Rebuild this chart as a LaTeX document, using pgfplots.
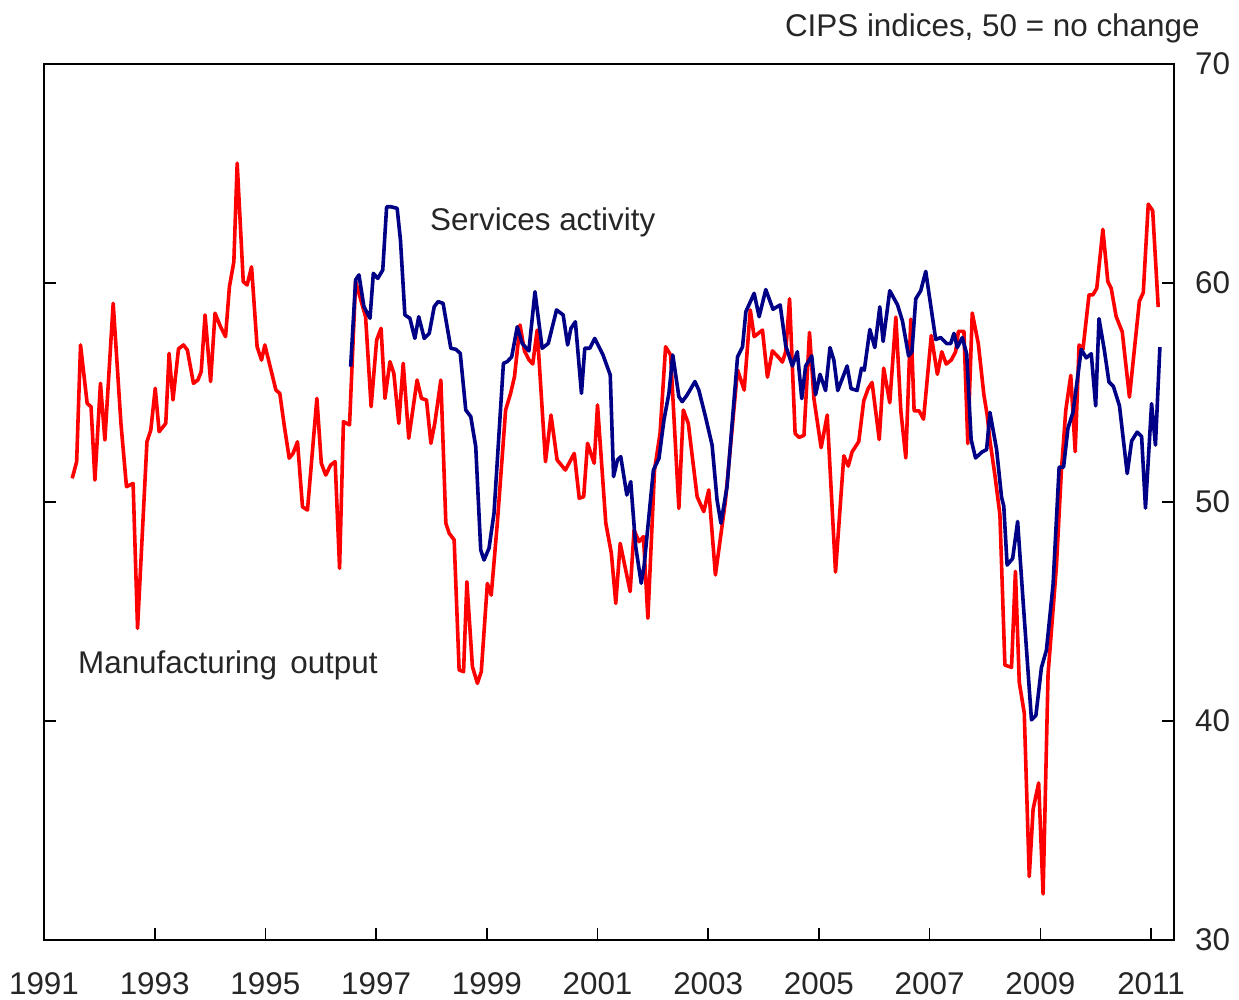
\documentclass[border=0pt]{standalone}
\usepackage{fontspec}
\setmainfont{Liberation Sans}
\usepackage{pgfplots}
\pgfplotsset{compat=1.18}
\definecolor{mfg}{RGB}{255,0,0}
\definecolor{svc}{RGB}{0,0,135}
\newcommand\f{\fontsize{15.7pt}{18pt}\selectfont}
\begin{document}
\begin{tikzpicture}
\path[use as bounding box] (0,0) rectangle (619.5pt,500pt);
\begin{axis}[
  at={(22pt,30pt)}, anchor=south west,
  scale only axis, width=565pt, height=438pt,
  xmin=1991, xmax=2011.415, ymin=30, ymax=70,
  xtick={1991,1993,1995,1997,1999,2001,2003,2005,2007,2009,2011},
  xticklabels={1991,1993,1995,1997,1999,2001,2003,2005,2007,2009,2011},
  ytick={30,40,50,60,70},
  yticklabels={30,40,50,60,70},
  xtick pos=bottom, ytick pos=both,
  yticklabel pos=right,
  tick align=inside,
  major tick length=6pt,
  tick style={black, line width=0.8pt},
  axis line style={black, line width=1.1pt},
  ticklabel style={font=\f, text=black!85},
  xticklabel shift=13pt,
  yticklabel shift=7pt,
  clip=false,
]
\addplot[mfg, line width=1.8pt, line join=round] coordinates {
(1991.51,51.08)(1991.59,51.84)(1991.66,57.17)(1991.78,54.5)(1991.85,54.35)(1991.92,51.0)
(1992.02,55.42)(1992.10,52.83)(1992.25,59.07)(1992.39,53.59)(1992.49,50.7)(1992.61,50.85)
(1992.69,44.23)(1992.86,52.75)(1992.93,53.29)(1993.01,55.19)(1993.08,53.21)(1993.20,53.59)
(1993.26,56.79)(1993.33,54.66)(1993.43,56.99)(1993.52,57.17)(1993.59,56.94)(1993.70,55.42)
(1993.78,55.57)(1993.84,55.95)(1993.91,58.54)(1994.01,55.50)(1994.09,58.62)(1994.19,58.0)
(1994.28,57.55)(1994.35,59.83)(1994.43,60.97)(1994.49,65.47)(1994.60,60.06)(1994.67,59.91)
(1994.75,60.74)(1994.85,57.09)(1994.93,56.48)(1994.99,57.17)(1995.19,55.11)(1995.26,54.96)
(1995.34,53.5)(1995.43,52.0)(1995.50,52.22)(1995.58,52.75)(1995.67,49.78)(1995.76,49.63)
(1995.93,54.73)(1996.01,51.77)(1996.09,51.23)(1996.18,51.69)(1996.26,51.84)(1996.34,46.97)
(1996.41,53.67)(1996.52,53.52)(1996.63,60.06)(1996.81,58.46)(1996.91,54.35)(1997.01,57.40)
(1997.09,57.93)(1997.16,54.73)(1997.25,56.41)(1997.32,55.88)(1997.41,53.59)(1997.49,56.33)
(1997.59,52.91)(1997.74,55.57)(1997.82,54.73)(1997.91,54.66)(1997.99,52.68)(1998.06,53.59)
(1998.17,55.57)(1998.26,49.03)(1998.32,48.57)(1998.41,48.27)(1998.50,42.33)(1998.58,42.25)
(1998.64,46.36)(1998.74,42.48)(1998.83,41.72)(1998.90,42.25)(1999.01,46.28)(1999.08,45.75)
(1999.19,49.03)(1999.34,54.2)(1999.43,54.96)(1999.50,55.72)(1999.60,58.08)(1999.68,56.9)
(1999.76,56.5)(1999.83,56.3)(1999.91,57.85)(2000.06,51.84)(2000.16,53.97)(2000.27,51.92)
(2000.42,51.46)(2000.58,52.22)(2000.67,50.17)(2000.75,50.24)(2000.82,52.68)(2000.94,51.77)
(2001.00,54.43)(2001.15,49.03)(2001.25,47.66)(2001.33,45.37)(2001.41,48.11)(2001.59,45.91)
(2001.66,48.72)(2001.75,48.19)(2001.83,48.42)(2001.91,44.69)(2002.03,51.46)(2002.13,53.14)
(2002.23,57.09)(2002.32,56.71)(2002.47,49.71)(2002.55,54.2)(2002.64,53.59)(2002.80,50.24)
(2002.92,49.56)(2003.01,50.55)(2003.13,46.67)(2003.31,50.02)(2003.53,56.03)(2003.65,55.11)
(2003.76,58.77)(2003.83,57.55)(2003.98,57.85)(2004.07,55.70)(2004.16,56.9)(2004.28,56.58)
(2004.34,56.39)(2004.40,56.86)(2004.47,59.28)(2004.57,53.13)(2004.64,52.95)(2004.73,53.04)
(2004.83,57.74)(2004.91,54.72)(2005.04,52.48)(2005.15,53.97)(2005.30,46.8)(2005.45,52.11)
(2005.53,51.64)(2005.60,52.29)(2005.72,52.76)(2005.81,54.62)(2005.89,55.18)(2005.96,55.46)
(2006.09,52.85)(2006.17,56.11)(2006.28,54.53)(2006.39,58.44)(2006.48,54.16)(2006.57,52.01)
(2006.66,58.35)(2006.72,54.16)(2006.81,54.16)(2006.89,53.78)(2007.03,57.6)(2007.14,55.83)
(2007.22,56.86)(2007.30,56.30)(2007.39,56.48)(2007.47,56.86)(2007.52,57.79)(2007.62,57.79)
(2007.69,52.67)(2007.77,58.63)(2007.88,57.23)(2007.98,54.90)(2008.04,53.97)(2008.09,52.8)
(2008.18,51.21)(2008.27,49.42)(2008.36,42.55)(2008.48,42.45)(2008.55,46.83)(2008.62,41.76)
(2008.71,40.36)(2008.80,32.9)(2008.87,35.98)(2008.97,37.17)(2009.05,32.1)(2009.14,42.15)
(2009.29,47.03)(2009.38,51.40)(2009.46,54.19)(2009.55,55.78)(2009.63,52.30)(2009.70,57.17)
(2009.77,56.97)(2009.88,59.46)(2009.95,59.46)(2010.02,59.76)(2010.13,62.45)(2010.22,60.06)
(2010.28,59.76)(2010.37,58.47)(2010.48,57.77)(2010.61,54.79)(2010.79,59.17)(2010.86,59.56)
(2010.95,63.6)(2011.03,63.3)(2011.13,58.9)
};
\addplot[svc, line width=1.8pt, line join=round] coordinates {
(1996.54,56.18)(1996.63,60.14)(1996.69,60.37)(1996.78,58.92)(1996.89,58.39)(1996.95,60.44)
(1997.03,60.21)(1997.12,60.59)(1997.19,63.48)(1997.27,63.48)(1997.38,63.41)(1997.44,61.96)
(1997.52,58.54)(1997.61,58.39)(1997.70,57.47)(1997.77,58.46)(1997.87,57.47)(1997.96,57.70)
(1998.05,58.92)(1998.12,59.15)(1998.21,59.07)(1998.35,57.02)(1998.44,56.97)(1998.52,56.79)
(1998.62,54.2)(1998.71,53.9)(1998.80,52.53)(1998.89,47.81)(1998.95,47.35)(1999.04,47.89)
(1999.13,49.48)(1999.30,56.33)(1999.37,56.41)(1999.45,56.63)(1999.55,58.0)(1999.64,57.24)
(1999.76,56.9)(1999.87,59.6)(2000.00,57.02)(2000.11,57.24)(2000.26,58.77)(2000.38,58.54)
(2000.46,57.17)(2000.52,57.93)(2000.60,58.23)(2000.71,54.96)(2000.77,57.02)(2000.86,57.02)
(2000.95,57.47)(2001.10,56.71)(2001.23,55.8)(2001.29,51.16)(2001.36,51.92)(2001.42,52.07)
(2001.53,50.32)(2001.60,50.93)(2001.69,47.96)(2001.79,46.29)(2001.84,47.05)(2002.01,51.46)
(2002.11,51.99)(2002.20,53.74)(2002.29,54.96)(2002.36,56.71)(2002.47,54.81)(2002.53,54.58)
(2002.62,54.89)(2002.76,55.5)(2002.83,55.11)(2002.95,53.9)(2003.07,52.6)(2003.16,50.09)
(2003.23,49.03)(2003.34,50.7)(2003.53,56.63)(2003.62,57.09)(2003.68,58.69)(2003.83,59.53)
(2003.92,58.46)(2004.04,59.7)(2004.17,58.8)(2004.30,59.0)(2004.40,57.14)(2004.52,56.21)
(2004.61,56.86)(2004.69,54.72)(2004.76,56.21)(2004.87,56.67)(2004.94,54.90)(2005.02,55.83)
(2005.12,55.09)(2005.20,57.05)(2005.27,56.48)(2005.34,55.09)(2005.51,56.21)(2005.58,55.18)
(2005.69,55.09)(2005.77,56.11)(2005.82,56.02)(2005.92,57.88)(2006.01,57.05)(2006.10,58.91)
(2006.16,57.33)(2006.28,59.65)(2006.42,59.0)(2006.51,58.26)(2006.62,56.67)(2006.68,56.86)
(2006.75,59.28)(2006.84,59.65)(2006.93,60.53)(2007.11,57.42)(2007.20,57.51)(2007.31,57.23)
(2007.38,57.23)(2007.44,57.70)(2007.50,57.05)(2007.59,57.51)(2007.67,56.76)(2007.75,52.85)
(2007.83,52.01)(2007.95,52.29)(2008.03,52.39)(2008.09,54.09)(2008.21,52.40)(2008.30,50.21)
(2008.34,49.81)(2008.40,47.12)(2008.50,47.42)(2008.59,49.11)(2008.69,45.43)(2008.84,40.05)
(2008.92,40.25)(2009.02,42.44)(2009.11,43.23)(2009.23,46.22)(2009.34,51.59)(2009.42,51.59)
(2009.50,53.38)(2009.59,54.09)(2009.74,56.97)(2009.83,56.58)(2009.92,56.77)(2010.00,54.39)
(2010.06,58.37)(2010.16,56.88)(2010.24,55.48)(2010.32,55.28)(2010.43,54.39)(2010.57,51.30)
(2010.65,52.79)(2010.75,53.19)(2010.83,52.99)(2010.90,49.72)(2011.01,54.49)(2011.08,52.60)
(2011.16,57.07)
};
\node[anchor=west, inner sep=0pt, font=\f, text=black!85] at (axis cs:1997.97,62.79) {Services activity};
\node[anchor=west, inner sep=0pt, font=\f, text=black!85] at (axis cs:1991.61,42.56) {Manufacturing\hspace{0.42em}output};
\end{axis}
\node[anchor=east, inner sep=0pt, font=\f, text=black!85] at (600pt,486pt) {CIPS indices, 50 = no change};
\end{tikzpicture}
\end{document}
